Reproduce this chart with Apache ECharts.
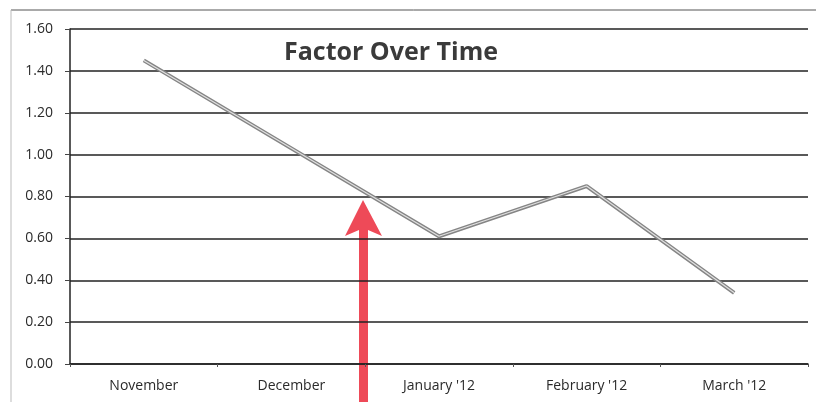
<!DOCTYPE html>
<html>
<head>
<meta charset="utf-8">
<script src="https://cdn.jsdelivr.net/npm/echarts@6/dist/echarts.min.js"></script>
<style>
  html, body { margin: 0; padding: 0; background: #fff; }
  #chart { width: 816px; height: 402px; }
</style>
</head>
<body>
<div id="chart"></div>
<script>
const months = ['November', 'December', "January '12", "February '12", "March '12"]
const factor = [1.45, 1.03, 0.61, 0.85, 0.34]
const yTicks = [0, 0.2, 0.4, 0.6, 0.8, 1.0, 1.2, 1.4, 1.6]

const chart = echarts.init(document.getElementById('chart'))
const font = '"Open Sans", "DejaVu Sans", sans-serif'

chart.setOption({
  animation: false,
  title: {
    text: 'Factor Over Time',
    left: 279,
    top: 35,
    textStyle: { fontFamily: font, fontSize: 25, fontWeight: 'bold', color: '#3a3a3a' }
  },
  grid: { left: 70, right: 8, top: 29, bottom: 38 },
  xAxis: {
    type: 'category',
    data: months,
    boundaryGap: true,
    axisLine: { lineStyle: { color: '#222', width: 1.5 } },
    axisTick: { show: true, length: 3, lineStyle: { color: '#555' } },
    axisLabel: { fontFamily: font, fontSize: 14, color: '#2a2a2a', margin: 15 }
  },
  yAxis: {
    type: 'value',
    min: 0,
    max: 1.6,
    interval: 0.2,
    axisLine: { show: true, lineStyle: { color: '#222', width: 1.5 } },
    axisTick: { show: true, length: 5, lineStyle: { color: '#444' } },
    axisLabel: {
      fontFamily: font, fontSize: 14, color: '#2a2a2a', margin: 17,
      formatter: v => yTicks.includes(Math.round(v * 10) / 10) ? v.toFixed(2) : ''
    },
    splitLine: { show: true, lineStyle: { color: '#222', width: 1.5 } }
  },
  series: [
    {
      type: 'line',
      data: factor,
      symbol: 'none',
      lineStyle: { color: '#858585', width: 4 }
    },
    {
      // light centre stripe gives the scanned double-line look
      type: 'line',
      data: factor,
      symbol: 'none',
      lineStyle: { color: '#e0e0e0', width: 1.2 }
    }
  ],
  graphic: [
    {
      type: 'line',
      shape: { x1: 11, y1: 10, x2: 816, y2: 10 },
      style: { stroke: '#555', lineWidth: 1 }
    },
    {
      type: 'line',
      shape: { x1: 11, y1: 10, x2: 11, y2: 402 },
      style: { stroke: '#bbb', lineWidth: 1 }
    },
    {
      // red annotation arrow
      type: 'polygon',
      shape: {
        points: [
          [359, 402], [359, 230], [345, 236], [363, 200],
          [382, 236], [368, 230], [368, 402]
        ]
      },
      style: { fill: '#ee4a58' }
    }
  ]
})
</script>
</body>
</html>
